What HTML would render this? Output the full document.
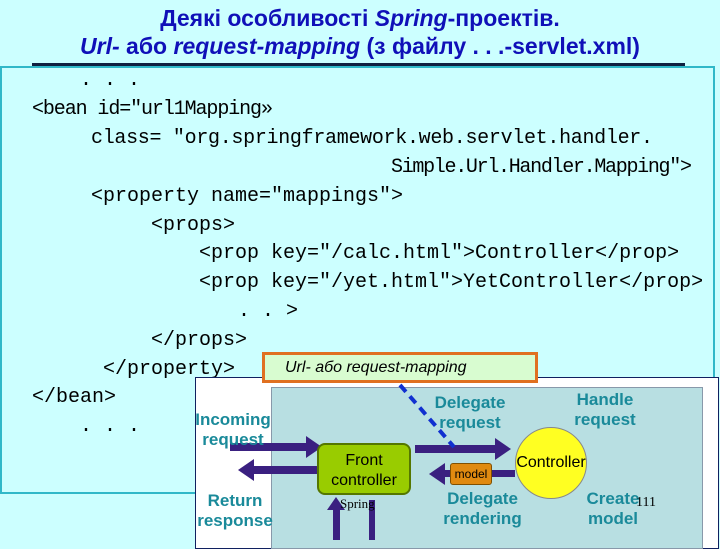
<!DOCTYPE html>
<html><head><meta charset="utf-8"><style>
body{margin:0;width:720px;height:540px;background:#ccffff;position:relative;overflow:hidden;font-family:"Liberation Sans",sans-serif}
.t{position:absolute;left:0;width:720px;text-align:center;color:#1010b8;font-weight:bold;font-size:23px;white-space:nowrap}
.c{position:absolute;font-family:"Liberation Mono",monospace;font-size:20px;color:#000;white-space:pre;line-height:22px}
.d{position:absolute;color:#1a8a9a;font-weight:bold;font-size:17px;text-align:center;line-height:20px}
</style></head><body>
<div class="t" style="top:5px">Деякі особливості <i>Spring</i>-проектів.</div>
<div class="t" style="top:33px"><i>Url-</i> або <i>request-mapping</i> (з файлу . . .-servlet.xml)</div>
<div style="position:absolute;left:0;top:66px;width:711px;height:424px;border:2px solid #30b8c8;background:#ccffff"></div>
<div style="position:absolute;left:32px;top:63px;width:653px;height:3px;background:#102040"></div>
<div class="c" style="left:80px;top:70px">. . .</div>
<div class="c" style="left:32px;top:99px;letter-spacing:-1.1px">&lt;bean id="url1Mapping»</div>
<div class="c" style="left:91px;top:128px;letter-spacing:-0.3px">class= "org.springframework.web.servlet.handler.</div>
<div class="c" style="left:391px;top:157px;letter-spacing:-1.3px">Simple.Url.Handler.Mapping"&gt;</div>
<div class="c" style="left:91px;top:186px">&lt;property name="mappings"&gt;</div>
<div class="c" style="left:151px;top:215px">&lt;props&gt;</div>
<div class="c" style="left:199px;top:243px">&lt;prop key="/calc.html"&gt;Controller&lt;/prop&gt;</div>
<div class="c" style="left:199px;top:272px">&lt;prop key="/yet.html"&gt;YetController&lt;/prop&gt;</div>
<div class="c" style="left:238px;top:301px">. . &gt;</div>
<div class="c" style="left:151px;top:330px">&lt;/props&gt;</div>
<div class="c" style="left:103px;top:359px">&lt;/property&gt;</div>
<div class="c" style="left:32px;top:387px">&lt;/bean&gt;</div>
<div class="c" style="left:80px;top:416px">. . .</div>

<div style="position:absolute;left:195px;top:377px;width:522px;height:170px;background:#fff;border:1px solid #102060"></div>
<div style="position:absolute;left:271px;top:387px;width:430px;height:160px;background:#b8dfe2;border:1px solid #8899aa"></div>
<div style="position:absolute;left:262px;top:352px;width:270px;height:25px;background:#d8fcd0;border:3px solid #e07020;font-style:italic;font-size:16px;line-height:25px;text-indent:20px">Url- або request-mapping</div>
<svg style="position:absolute;left:0;top:0" width="720" height="540">
<g fill="#3a2080">
<rect x="230" y="443" width="80" height="8"/><polygon points="306,436 322,447 306,458"/>
<rect x="250" y="466" width="70" height="8"/><polygon points="254,459 238,470 254,481"/>
<rect x="415" y="445" width="90" height="8"/><polygon points="495,438 511,449 495,460"/>
<rect x="440" y="470" width="75" height="7"/><polygon points="445,463 429,474 445,485"/>
<rect x="333" y="505" width="7" height="40"/><polygon points="327,510 336,497 345,510"/>
<rect x="369" y="500" width="6" height="45"/>
</g>
<line x1="400" y1="385" x2="454" y2="447" stroke="#1030d0" stroke-width="4" stroke-dasharray="9,6"/>
</svg>
<div style="position:absolute;left:317px;top:443px;width:94px;height:52px;background:#99cc00;border:2px solid #557700;border-radius:8px;text-align:center;font-size:16px;line-height:20px;padding-top:6px;box-sizing:border-box">Front<br>controller</div>
<div style="position:absolute;left:450px;top:463px;width:40px;height:20px;background:#e08a10;border:1px solid #805000;border-radius:3px;font-size:12px;text-align:center;line-height:20px">model</div>
<div style="position:absolute;left:515px;top:427px;width:70px;height:70px;background:#ffff22;border:1px solid #888;border-radius:50%;text-align:center;line-height:70px;font-size:16px">Controller</div>
<div class="d" style="left:194px;top:410px;width:78px">Incoming<br>request</div>
<div class="d" style="left:196px;top:491px;width:78px">Return<br>response</div>
<div class="d" style="left:423px;top:393px;width:94px">Delegate<br>request</div>
<div class="d" style="left:563px;top:390px;width:84px">Handle<br>request</div>
<div class="d" style="left:428px;top:489px;width:109px">Delegate<br>rendering</div>
<div class="d" style="left:576px;top:489px;width:74px">Create<br>model</div>
<div style="position:absolute;left:340px;top:496px;font-family:'Liberation Serif',serif;font-size:13px">Spring</div>
<div style="position:absolute;left:636px;top:495px;font-family:'Liberation Serif',serif;font-size:14px">111</div>
</body></html>
